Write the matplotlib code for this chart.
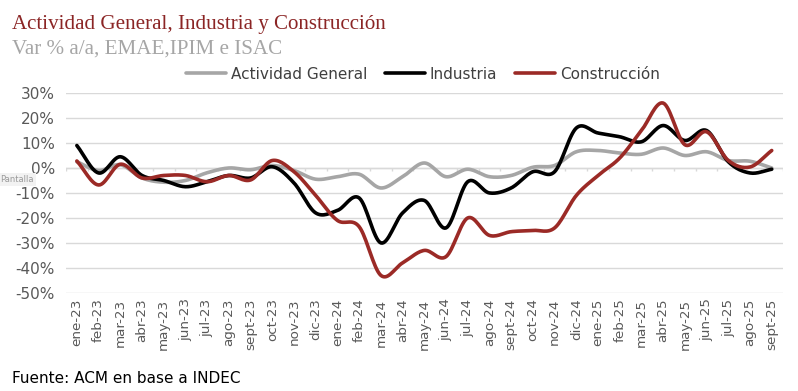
#!/usr/bin/env python3

import numpy as np
import matplotlib
matplotlib.use("Agg")
import matplotlib.pyplot as plt


MONTHS = [
    "ene-23", "feb-23", "mar-23", "abr-23", "may-23", "jun-23", "jul-23",
    "ago-23", "sept-23", "oct-23", "nov-23", "dic-23",
    "ene-24", "feb-24", "mar-24", "abr-24", "may-24", "jun-24", "jul-24",
    "ago-24", "sept-24", "oct-24", "nov-24", "dic-24",
    "ene-25", "feb-25", "mar-25", "abr-25", "may-25", "jun-25", "jul-25",
    "ago-25", "sept-25",
]

ACTIVIDAD = [
    2.5, -1.0, 1.3, -4.0, -5.7, -5.0, -1.9, 0.0, -0.7, 1.0, -1.0, -4.5,
    -3.5, -2.5, -8.0, -3.5, 2.0, -3.5, -0.5, -3.5, -3.0, 0.3, 1.0, 6.5,
    7.0, 6.0, 5.5, 8.0, 5.0, 6.5, 3.0, 2.7, 0.0,
]

INDUSTRIA = [
    9.0, -2.0, 4.5, -3.0, -5.0, -7.5, -5.5, -3.0, -4.0, 0.5, -6.0, -18.0,
    -17.0, -12.0, -30.0, -18.0, -13.0, -24.0, -5.5, -10.0, -8.0, -1.5, -1.5, 16.0,
    14.0, 12.5, 10.5, 17.0, 11.0, 15.0, 2.5, -2.0, -0.5,
]

CONSTRUCCION = [
    2.8, -6.8, 1.5, -4.0, -3.0, -3.0, -5.5, -3.0, -4.8, 3.0, -1.5, -11.0,
    -21.0, -23.5, -43.0, -38.0, -33.0, -35.5, -20.0, -27.0, -25.5, -25.0, -24.0, -11.0,
    -3.0, 4.0, 15.0, 26.0, 9.3, 14.5, 3.0, 0.4, 7.0,
]

SERIES = (
    {"name": "Actividad General", "values": ACTIVIDAD, "color": "#a6a6a6"},
    {"name": "Industria", "values": INDUSTRIA, "color": "#000000"},
    {"name": "Construcción", "values": CONSTRUCCION, "color": "#9b2a26"},
)


def smooth(x, y, n=16):
    # Catmull-Rom curve through the points, like Excel's smoothed lines
    x = np.asarray(x, float)
    y = np.asarray(y, float)
    px = np.concatenate([[2*x[0] - x[1]], x, [2*x[-1] - x[-2]]])
    py = np.concatenate([[2*y[0] - y[1]], y, [2*y[-1] - y[-2]]])
    t = np.linspace(0, 1, n, endpoint=False)
    xs, ys = [], []
    for i in range(1, len(px) - 2):
        for p, out in ((px, xs), (py, ys)):
            p0, p1, p2, p3 = p[i-1], p[i], p[i+1], p[i+2]
            out.extend(0.5*((2*p1) + (-p0 + p2)*t
                            + (2*p0 - 5*p1 + 4*p2 - p3)*t**2
                            + (-p0 + 3*p1 - 3*p2 + p3)*t**3))
    xs.append(x[-1])
    ys.append(y[-1])
    return np.array(xs), np.array(ys)


def main():
    fig = plt.figure(figsize=(7.98, 3.91), dpi=100)
    ax = fig.add_axes([0.0827, 0.251, 0.898, 0.511])

    xs = np.arange(len(MONTHS))
    for s in SERIES:
        sx, sy = smooth(xs, s["values"])
        ax.plot(sx, sy, color=s["color"], linewidth=2.6,
                solid_capstyle="round", label=s["name"], zorder=3)

    ax.set_xlim(-0.5, len(MONTHS) - 0.5)
    ax.set_ylim(-50, 30)
    ax.set_yticks(range(-50, 31, 10))
    ax.set_yticklabels([f"{v}%" for v in range(-50, 31, 10)])
    ax.set_xticks(xs)
    ax.set_xticklabels(MONTHS, rotation=90)
    ax.tick_params(axis="y", length=0, labelsize=11, labelcolor="#595959", pad=8)
    ax.tick_params(axis="x", length=0, labelsize=9.7, labelcolor="#595959", pad=4)
    for sp in ax.spines.values():
        sp.set_visible(False)

    ax.grid(axis="y", color="#d9d9d9", linewidth=1.0, zorder=0)
    ax.axhline(0, color="#d9d9d9", linewidth=1.0, zorder=1)
    ax.vlines(np.arange(-0.5, len(MONTHS)), -1.3, 0, color="#d9d9d9",
              linewidth=1.0, zorder=1)

    fig.text(0.015, 0.925, "Actividad General, Industria y Construcción",
             family="Liberation Serif", fontsize=15.1, color="#8b2525")
    fig.text(0.015, 0.863, "Var % a/a, EMAE,IPIM e ISAC",
             family="Liberation Serif", fontsize=15.2, color="#a6a6a6")

    fig.legend(loc="center", bbox_to_anchor=(0.53, 0.81), ncol=3,
               frameon=False, fontsize=11, handlelength=2.6,
               columnspacing=1.2, handletextpad=0.3, labelcolor="#404040")

    fig.text(0.015, 0.02, "Fuente: ACM en base a INDEC", fontsize=11,
             color="#000000")
    fig.text(0.0, 0.535, "Pantalla", fontsize=6, color="#9a9a9a",
             bbox=dict(facecolor="#f2f2f2", edgecolor="none", pad=1.5))

    fig.savefig("out.png", dpi=100)


if __name__ == "__main__":
    main()
